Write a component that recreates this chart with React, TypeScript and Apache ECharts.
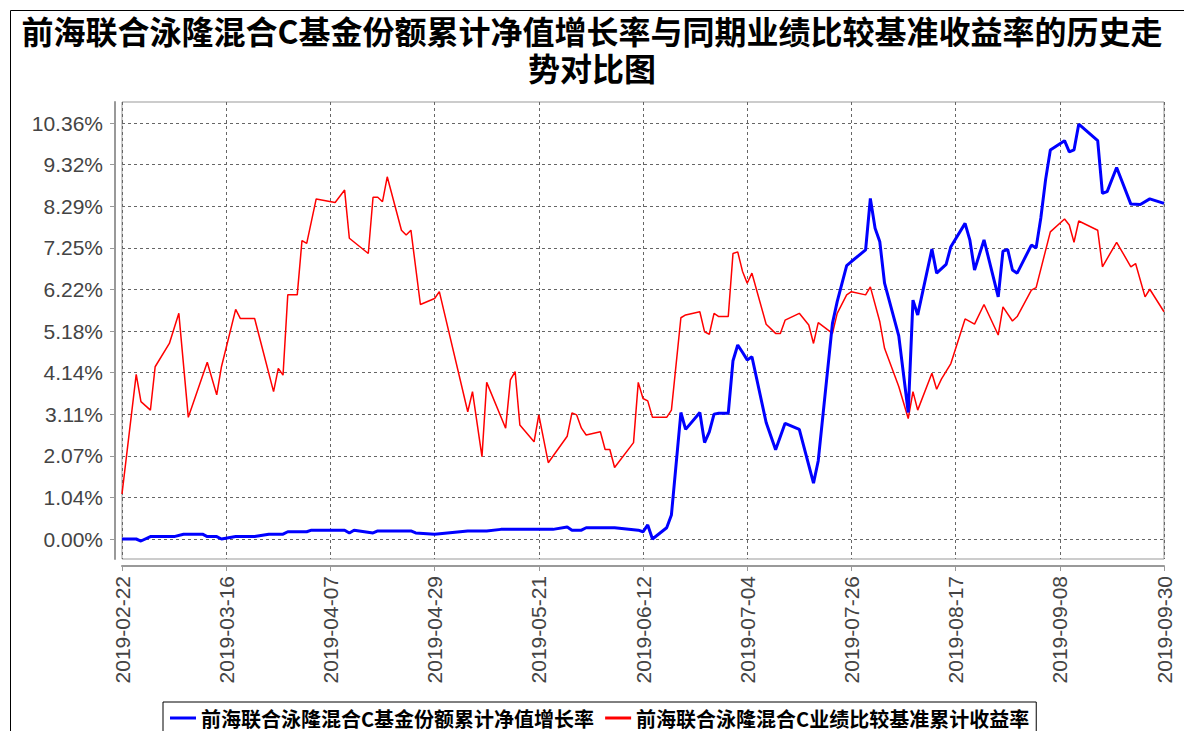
import React, { useEffect, useRef } from 'react';
import * as echarts from 'echarts';

const titleText =
  '前海联合泳隆混合C基金份额累计净值增长率与同期业绩比较基准收益率的历史走\n势对比图';
const seriesNames = [
  '前海联合泳隆混合C基金份额累计净值增长率',
  '前海联合泳隆混合C业绩比较基准累计收益率',
];

const xTickDates = [
  '2019-02-22', '2019-03-16', '2019-04-07', '2019-04-29', '2019-05-21', '2019-06-12',
  '2019-07-04', '2019-07-26', '2019-08-17', '2019-09-08', '2019-09-30',
];
const yTickValues = [0, 1.036, 2.072, 3.108, 4.144, 5.18, 6.216, 7.252, 8.288, 9.324, 10.36];

const fundDates = [
  '2019-02-22', '2019-02-25', '2019-02-26', '2019-02-28', '2019-03-05', '2019-03-07', '2019-03-11',
  '2019-03-12', '2019-03-14', '2019-03-15', '2019-03-18', '2019-03-22', '2019-03-25', '2019-03-28',
  '2019-03-29', '2019-04-02', '2019-04-03', '2019-04-10', '2019-04-11', '2019-04-12', '2019-04-16',
  '2019-04-17', '2019-04-24', '2019-04-25', '2019-04-29', '2019-05-06', '2019-05-10', '2019-05-13',
  '2019-05-24', '2019-05-27', '2019-05-28', '2019-05-30', '2019-05-31', '2019-06-06', '2019-06-11',
  '2019-06-12', '2019-06-13', '2019-06-14', '2019-06-17', '2019-06-18', '2019-06-20', '2019-06-21',
  '2019-06-24', '2019-06-25', '2019-06-26', '2019-06-27', '2019-06-28', '2019-06-30', '2019-07-01',
  '2019-07-02', '2019-07-03', '2019-07-04', '2019-07-05', '2019-07-08', '2019-07-10', '2019-07-12',
  '2019-07-15', '2019-07-18', '2019-07-19', '2019-07-22', '2019-07-23', '2019-07-25', '2019-07-26',
  '2019-07-29', '2019-07-30', '2019-07-31', '2019-08-01', '2019-08-02', '2019-08-05', '2019-08-07',
  '2019-08-08', '2019-08-09', '2019-08-12', '2019-08-13', '2019-08-15', '2019-08-16', '2019-08-19',
  '2019-08-20', '2019-08-21', '2019-08-23', '2019-08-26', '2019-08-27', '2019-08-28', '2019-08-29',
  '2019-08-30', '2019-09-02', '2019-09-03', '2019-09-04', '2019-09-05', '2019-09-06', '2019-09-09',
  '2019-09-10', '2019-09-11', '2019-09-12', '2019-09-16', '2019-09-17', '2019-09-18', '2019-09-20',
  '2019-09-23', '2019-09-25', '2019-09-27', '2019-09-30',
];
const fundValues = [
  0.0, 0.0, -0.05, 0.06, 0.06, 0.12, 0.12,
  0.06, 0.06, 0.0, 0.06, 0.06, 0.12, 0.12,
  0.18, 0.18, 0.22, 0.22, 0.15, 0.22, 0.15,
  0.2, 0.2, 0.15, 0.12, 0.2, 0.2, 0.24,
  0.24, 0.3, 0.22, 0.22, 0.28, 0.28, 0.22,
  0.18, 0.35, 0.0, 0.28, 0.6, 3.15, 2.73,
  3.15, 2.4, 2.67, 3.11, 3.13, 3.13, 4.44,
  4.83, 4.65, 4.46, 4.54, 2.9, 2.22, 2.88,
  2.73, 1.39, 1.95, 5.37, 5.91, 6.81, 6.91,
  7.2, 8.48, 7.74, 7.4, 6.37, 5.06, 3.15,
  5.95, 5.58, 7.22, 6.62, 6.84, 7.28, 7.86,
  7.45, 6.7, 7.45, 6.03, 7.17, 7.21, 6.7,
  6.62, 7.32, 7.25, 8.0, 8.95, 9.69, 9.92,
  9.64, 9.69, 10.33, 9.92, 8.61, 8.65, 9.25,
  8.34, 8.33, 8.47, 8.36,
];

const benchDates = [
  '2019-02-22', '2019-02-25', '2019-02-26', '2019-02-28', '2019-03-01', '2019-03-04', '2019-03-06',
  '2019-03-08', '2019-03-12', '2019-03-14', '2019-03-15', '2019-03-18', '2019-03-19', '2019-03-22',
  '2019-03-26', '2019-03-27', '2019-03-28', '2019-03-29', '2019-03-31', '2019-04-01', '2019-04-02',
  '2019-04-04', '2019-04-08', '2019-04-10', '2019-04-11', '2019-04-15', '2019-04-16', '2019-04-17',
  '2019-04-18', '2019-04-19', '2019-04-22', '2019-04-23', '2019-04-24', '2019-04-26', '2019-04-29',
  '2019-04-30', '2019-05-06', '2019-05-07', '2019-05-09', '2019-05-10', '2019-05-14', '2019-05-15',
  '2019-05-16', '2019-05-17', '2019-05-20', '2019-05-21', '2019-05-23', '2019-05-27', '2019-05-28',
  '2019-05-29', '2019-05-30', '2019-05-31', '2019-06-03', '2019-06-04', '2019-06-05', '2019-06-06',
  '2019-06-10', '2019-06-11', '2019-06-12', '2019-06-13', '2019-06-14', '2019-06-17', '2019-06-18',
  '2019-06-20', '2019-06-21', '2019-06-24', '2019-06-25', '2019-06-26', '2019-06-27', '2019-06-28',
  '2019-06-30', '2019-07-01', '2019-07-02', '2019-07-03', '2019-07-04', '2019-07-05', '2019-07-08',
  '2019-07-10', '2019-07-11', '2019-07-12', '2019-07-15', '2019-07-17', '2019-07-18', '2019-07-19',
  '2019-07-22', '2019-07-23', '2019-07-25', '2019-07-26', '2019-07-29', '2019-07-30', '2019-08-01',
  '2019-08-02', '2019-08-05', '2019-08-07', '2019-08-08', '2019-08-09', '2019-08-12', '2019-08-13',
  '2019-08-14', '2019-08-16', '2019-08-19', '2019-08-21', '2019-08-23', '2019-08-26', '2019-08-27',
  '2019-08-29', '2019-08-30', '2019-09-02', '2019-09-03', '2019-09-06', '2019-09-09', '2019-09-10',
  '2019-09-11', '2019-09-12', '2019-09-16', '2019-09-17', '2019-09-20', '2019-09-23', '2019-09-24',
  '2019-09-26', '2019-09-27', '2019-09-30',
];
const benchValues = [
  1.12, 4.1, 3.42, 3.21, 4.29, 4.87, 5.62,
  3.03, 4.4, 3.59, 4.29, 5.72, 5.49, 5.49,
  3.67, 4.25, 4.08, 6.08, 6.08, 7.43, 7.36,
  8.47, 8.38, 8.69, 7.49, 7.11, 8.51, 8.51,
  8.4, 9.02, 7.69, 7.57, 7.69, 5.84, 5.99,
  6.16, 3.17, 3.67, 2.05, 3.9, 2.76, 3.96,
  4.17, 2.84, 2.42, 3.09, 1.9, 2.56, 3.14,
  3.09, 2.76, 2.59, 2.67, 2.23, 2.23, 1.78,
  2.4, 3.9, 3.5, 3.44, 3.03, 3.03, 3.21,
  5.51, 5.58, 5.66, 5.16, 5.1, 5.62, 5.54,
  5.54, 7.11, 7.15, 6.67, 6.37, 6.62, 5.35,
  5.12, 5.12, 5.45, 5.62, 5.33, 4.87, 5.39,
  5.12, 5.62, 6.08, 6.16, 6.08, 6.28, 5.41,
  4.75, 3.8, 3.0, 3.67, 3.21, 4.13, 3.73,
  3.98, 4.37, 5.48, 5.35, 5.84, 5.08, 5.78,
  5.43, 5.54, 6.2, 6.26, 7.65, 7.97, 7.82,
  7.39, 7.92, 7.69, 6.78, 7.39, 6.78, 6.86,
  6.03, 6.22, 5.66,
];

export default function App() {
  const ref = useRef<HTMLDivElement>(null);

  useEffect(() => {
    if (!ref.current) return;
    const chart = echarts.init(ref.current, null, { renderer: 'svg' });
    const parse = (s: string) => {
      const [y, m, d] = s.split('-').map(Number);
      return Date.UTC(y, m - 1, d);
    };
    const pad = (n: number) => (n < 10 ? '0' : '') + n;
    const fmtDate = (v: number) => {
      const d = new Date(v);
      return `${d.getUTCFullYear()}-${pad(d.getUTCMonth() + 1)}-${pad(d.getUTCDate())}`;
    };
    const xTicks = xTickDates.map(parse);
    const fundData = fundDates.map((d, i) => [parse(d), fundValues[i]]);
    const benchData = benchDates.map((d, i) => [parse(d), benchValues[i]]);

    const labelFont = {
      fontFamily: 'Liberation Sans, Arial, sans-serif',
      fontSize: 21,
      color: '#444',
    };

    chart.setOption({
      animation: false,
      backgroundColor: '#ffffff',
      title: {
        text: titleText,
        left: 'center',
        top: 6,
        textStyle: {
          fontFamily: 'Noto Sans CJK SC',
          fontSize: 32,
          fontWeight: 'bold',
          color: '#000',
          lineHeight: 37,
        },
      },
      graphic: [
        {
          type: 'rect',
          silent: true,
          z: -10,
          shape: { x: 10.5, y: 10.5, width: 1300, height: 900 },
          style: { fill: 'none', stroke: '#000', lineWidth: 1 },
        },
      ],
      grid: {
        left: 122,
        right: 20,
        top: 102,
        bottom: 172,
        show: true,
        borderColor: '#999',
        borderWidth: 1,
        backgroundColor: '#fff',
        containLabel: false,
      },
      legend: {
        left: 163,
        top: 702,
        orient: 'horizontal',
        itemWidth: 26,
        itemHeight: 3,
        itemGap: 11,
        padding: [6, 7, 16, 7],
        borderColor: '#000',
        borderWidth: 1,
        textStyle: {
          fontFamily: 'Noto Sans CJK SC',
          fontSize: 20,
          lineHeight: 20,
          fontWeight: 'bold',
          color: '#000',
        },
        data: [
          { name: seriesNames[0], icon: 'rect' },
          { name: seriesNames[1], icon: 'rect' },
        ],
      },
      xAxis: {
        type: 'value',
        min: xTicks[0],
        max: xTicks[xTicks.length - 1],
        offset: 7,
        axisLine: { show: true, onZero: false, lineStyle: { color: '#999', width: 2 } },
        axisTick: { show: true, customValues: xTicks, length: 5, lineStyle: { color: '#999' } },
        axisLabel: {
          customValues: xTicks,
          rotate: 90,
          margin: 10,
          formatter: (v: number) => fmtDate(v),
          showMinLabel: true,
          showMaxLabel: true,
          hideOverlap: false,
          ...labelFont,
        },
        splitLine: { show: true, lineStyle: { color: '#666', type: [3, 3], width: 1 } },
      },
      yAxis: {
        type: 'value',
        min: -0.498,
        max: 10.883,
        offset: 7,
        axisLine: { show: true, onZero: false, lineStyle: { color: '#999', width: 2 } },
        axisTick: { show: true, customValues: yTickValues, length: 5, lineStyle: { color: '#999' } },
        axisLabel: {
          customValues: yTickValues,
          margin: 12,
          formatter: (v: number) => v.toFixed(2) + '%',
          ...labelFont,
        },
        splitLine: { show: true, lineStyle: { color: '#666', type: [3, 3], width: 1 } },
      },
      series: [
        {
          name: seriesNames[0],
          type: 'line',
          data: fundData,
          symbol: 'none',
          lineStyle: { color: '#0000ff', width: 3 },
          itemStyle: { color: '#0000ff' },
          z: 3,
        },
        {
          name: seriesNames[1],
          type: 'line',
          data: benchData,
          symbol: 'none',
          lineStyle: { color: '#ff0000', width: 1.5 },
          itemStyle: { color: '#ff0000' },
          z: 2,
        },
      ],
    });

    return () => chart.dispose();
  }, []);

  return (
    <div
      ref={ref}
      style={{ position: 'fixed', left: 0, top: 0, width: 1184, height: 731, background: '#fff' }}
    />
  );
}
